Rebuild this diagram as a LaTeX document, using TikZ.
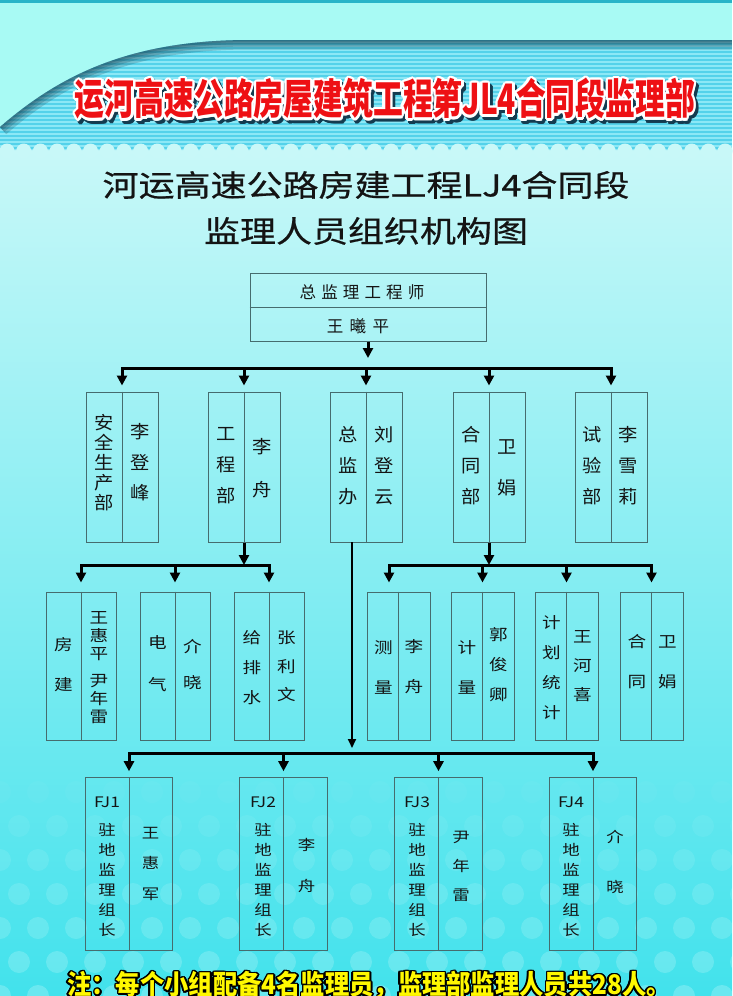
\documentclass[tikz,border=0pt]{standalone}
\usepackage{fontspec}
\setmainfont{Noto Sans CJK SC}
\usepackage[copies]{contour}
\usetikzlibrary{arrows.meta}
\definecolor{skytop}{RGB}{168,250,244}
\definecolor{edgeteal}{RGB}{40,180,200}
\definecolor{bannerblue}{RGB}{84,210,234}
\definecolor{bannerlight}{RGB}{140,232,246}
\definecolor{shadowteal}{RGB}{20,60,80}
\definecolor{paleaqua}{RGB}{200,248,248}
\definecolor{midaqua}{RGB}{150,240,242}
\definecolor{deepaqua}{RGB}{66,226,236}
\definecolor{boxline}{RGB}{70,108,110}
\definecolor{inkblack}{RGB}{20,20,20}
\definecolor{titlered}{RGB}{238,16,20}
\definecolor{noteyellow}{RGB}{255,248,0}
\tikzset{
  unit/.style={draw=boxline, line width=1pt, inner sep=0pt},
  deptcol/.style={inner sep=0pt, align=center, text=inkblack,
    font=\fontsize{18}{#1}\selectfont\addfontfeatures{FakeStretch=1.07}},
  teamcol/.style={inner sep=0pt, align=center, text=inkblack,
    font=\fontsize{15.5}{#1}\selectfont\addfontfeatures{FakeStretch=1.2}},
  sitecol/.style={inner sep=0pt, align=center, text=inkblack,
    font=\fontsize{14.5}{#1}\selectfont\addfontfeatures{FakeStretch=1.2}},
  feed/.style={line width=3pt, -{Triangle[width=10pt,length=10pt]}},
  rail/.style={line width=3pt, line cap=rect},
}
\begin{document}
\begin{tikzpicture}[x=1pt,y=-1pt]
\useasboundingbox (0,0) rectangle (732,996);

% backdrop
\fill[skytop] (0,0) rectangle (732,150);
\fill[edgeteal] (0,0) rectangle (732,3);
\shade[top color=paleaqua, middle color=midaqua, bottom color=deepaqua] (0,150) rectangle (732,996);
\foreach \r in {0,...,6}{
  \pgfmathsetmacro\op{0.03+0.03*\r}
  \foreach \k in {0,...,19}
    \fill[white, opacity=\op] ({19*mod(\r,2)+38*\k},{792+34*\r}) circle (11);
}
\begin{scope}
  \clip (0,127) .. controls (60,75) and (130,40) .. (250,40) -- (732,40) -- (732,150) -- (0,150) -- cycle;
  \fill[bannerblue] (0,30) rectangle (732,150);
  \foreach \s in {41,45,...,149} \fill[bannerlight] (0,\s) rectangle (732,\s+1.6);
  \foreach \w in {4,8,13,19}
    \draw[shadowteal, opacity=0.22, line width=\w pt] (0,127) .. controls (60,75) and (130,40) .. (250,40) -- (740,40);
\end{scope}
\foreach \k in {0,...,44} \fill[paleaqua] ({7+16.7*\k},151) circle (7.5);

\node[font=\fontsize{42}{44}\selectfont\bfseries\addfontfeatures{FakeStretch=0.71}, text=shadowteal] (titleshade) at (387.5,103) {\contourlength{2.4pt}\contour{shadowteal}{运河高速公路房屋建筑工程第JL4合同段监理部}};
\node[font=\fontsize{42}{44}\selectfont\bfseries\addfontfeatures{FakeStretch=0.71}, text=titlered] (title) at (385,100) {\contourlength{2.4pt}\contour{white}{运河高速公路房屋建筑工程第JL4合同段监理部}};

\node[font=\fontsize{30}{32}\selectfont\addfontfeatures{FakeStretch=1.2,FakeBold=0.6}, text=inkblack] (heading) at (366,185) {河运高速公路房建工程LJ4合同段};
\node[font=\fontsize{30}{32}\selectfont\addfontfeatures{FakeStretch=1.2,FakeBold=0.6}, text=inkblack] (subheading) at (366,231) {监理人员组织机构图};

\node[unit, minimum width=236pt, minimum height=68pt] (chief) at (368,307) {};
\draw[boxline, line width=1pt] (chief.west) -- (chief.east);
\node[text=inkblack, font=\fontsize{16.5}{18}\selectfont\addfontfeatures{LetterSpace=31}] (chiefrole) at (362,292.5) {总监理工程师};
\node[text=inkblack, font=\fontsize{16.5}{18}\selectfont\addfontfeatures{LetterSpace=38}] (chiefname) at (358,326.5) {王曦平};

\foreach \n/\x in {safety/122,works/244,office/366,contract/489,testing/611}{
  \node[unit, minimum width=72pt, minimum height=150pt] (\n) at (\x,467) {};
  \draw[boxline, line width=1pt] (\n.north) -- (\n.south);
}
\node[deptcol=20] (safetyL) at (104,462.5) {安\\全\\生\\产\\部};
\node[deptcol=30.5] (safetyR) at (140,462.5) {李\\登\\峰};
\node[deptcol=31] (worksL) at (226,466) {工\\程\\部};
\node[deptcol=43] (worksR) at (262,468.5) {李\\舟};
\node[deptcol=31] (officeL) at (348.5,466) {总\\监\\办};
\node[deptcol=31] (officeR) at (384,466) {刘\\登\\云};
\node[deptcol=31] (contractL) at (471,466) {合\\同\\部};
\node[deptcol=41] (contractR) at (507,467.5) {卫\\娟};
\node[deptcol=31] (testingL) at (592.5,466) {试\\验\\部};
\node[deptcol=31] (testingR) at (628.5,466) {李\\雪\\莉};

\foreach \n/\x/\w in {housing/81/70,electric/175/70,plumbing/269/70,survey/398.5/63,metering/482.5/63,planning/566.5/63,contract2/651.5/63}{
  \node[unit, minimum width=\w pt, minimum height=148pt] (\n) at (\x,666) {};
  \draw[boxline, line width=1pt] (\n.north) -- (\n.south);
}
\node[teamcol=40] (housingL) at (63.5,665) {房\\建};
\node[teamcol=18] (housingR) at (99,667.5) {王\\惠\\平\\[9pt]尹\\年\\雷};
\node[teamcol=42] (electricL) at (157.5,664) {电\\气};
\node[teamcol=36] (electricR) at (192.5,665) {介\\晓};
\node[teamcol=30] (plumbingL) at (252,668) {给\\排\\水};
\node[teamcol=28.5] (plumbingR) at (286.5,666.5) {张\\利\\文};
\node[teamcol=40] (surveyL) at (383.5,667) {测\\量};
\node[teamcol=40] (surveyR) at (414,667) {李\\舟};
\node[teamcol=40] (meteringL) at (467,667) {计\\量};
\node[teamcol=30] (meteringR) at (498.5,665) {郭\\俊\\卿};
\node[teamcol=30] (planningL) at (551.5,668) {计\\划\\统\\计};
\node[teamcol=29] (planningR) at (582.5,666) {王\\河\\喜};
\node[teamcol=40] (contract2L) at (637,662) {合\\同};
\node[teamcol=40] (contract2R) at (667.5,662) {卫\\娟};

\foreach \n/\x in {fj1/129,fj2/283.5,fj3/438.5,fj4/593}{
  \node[unit, minimum width=87.5pt, minimum height=173pt] (\n) at (\x,864.2) {};
  \draw[boxline, line width=1pt] (\n.north) -- (\n.south);
}
\node[sitecol=20] (fj1L) at (107,867) {FJ1\\[8pt]驻\\地\\监\\理\\组\\长};
\node[sitecol=20] (fj2L) at (263,867) {FJ2\\[8pt]驻\\地\\监\\理\\组\\长};
\node[sitecol=20] (fj3L) at (417,867) {FJ3\\[8pt]驻\\地\\监\\理\\组\\长};
\node[sitecol=20] (fj4L) at (571,867) {FJ4\\[8pt]驻\\地\\监\\理\\组\\长};
\node[sitecol=30.5] (fj1R) at (150.5,863.5) {王\\惠\\军};
\node[sitecol=41] (fj2R) at (306.5,865.5) {李\\舟};
\node[sitecol=29] (fj3R) at (461,866) {尹\\年\\雷};
\node[sitecol=50] (fj4R) at (615,862) {介\\晓};

\coordinate (chiefdrop) at (368,358);
\coordinate (railA) at (366,368);
\coordinate (railB) at (175,565);
\coordinate (railC) at (520,565);
\coordinate (surveytap) at (389,565);
\coordinate (officetap) at (352,542);
\coordinate (railD) at (361,753);

\draw[feed] (chief.south) -- (chiefdrop);
\draw[rail] (safety.north |- railA) -- (testing.north |- railA);
\foreach \n in {safety,works,office,contract,testing}
  \draw[feed, shorten >=6pt] (\n.north |- railA) -- (\n.north);

\draw[feed] (works.south) -- (works.south |- railB);
\draw[rail] (housing.north |- railB) -- (plumbing.north |- railB);
\foreach \n in {housing,electric,plumbing}
  \draw[feed, shorten >=9pt] (\n.north |- railB) -- (\n.north);

\draw[feed] (contract.south) -- (contract.south |- railC);
\draw[rail] (surveytap) -- (contract2.north |- railC);
\draw[feed, shorten >=9pt] (surveytap) -- (surveytap |- survey.north);
\foreach \n in {metering,planning,contract2}
  \draw[feed, shorten >=9pt] (\n.north |- railC) -- (\n.north);

\draw[line width=1.8pt, -{Triangle[width=8pt,length=9pt]}, shorten >=5pt] (officetap) -- (officetap |- railD);
\draw[rail] (fj1.north |- railD) -- (fj4.north |- railD);
\foreach \n in {fj1,fj2,fj3,fj4}
  \draw[feed, shorten >=6pt] (\n.north |- railD) -- (\n.north);

\node[font=\fontsize{27}{29}\selectfont\bfseries\addfontfeatures{FakeStretch=0.9}, text=noteyellow] (note) at (369,986) {\contourlength{1.6pt}\contour{black}{注：每个小组配备4名监理员，监理部监理人员共28人。}};
\end{tikzpicture}
\end{document}
